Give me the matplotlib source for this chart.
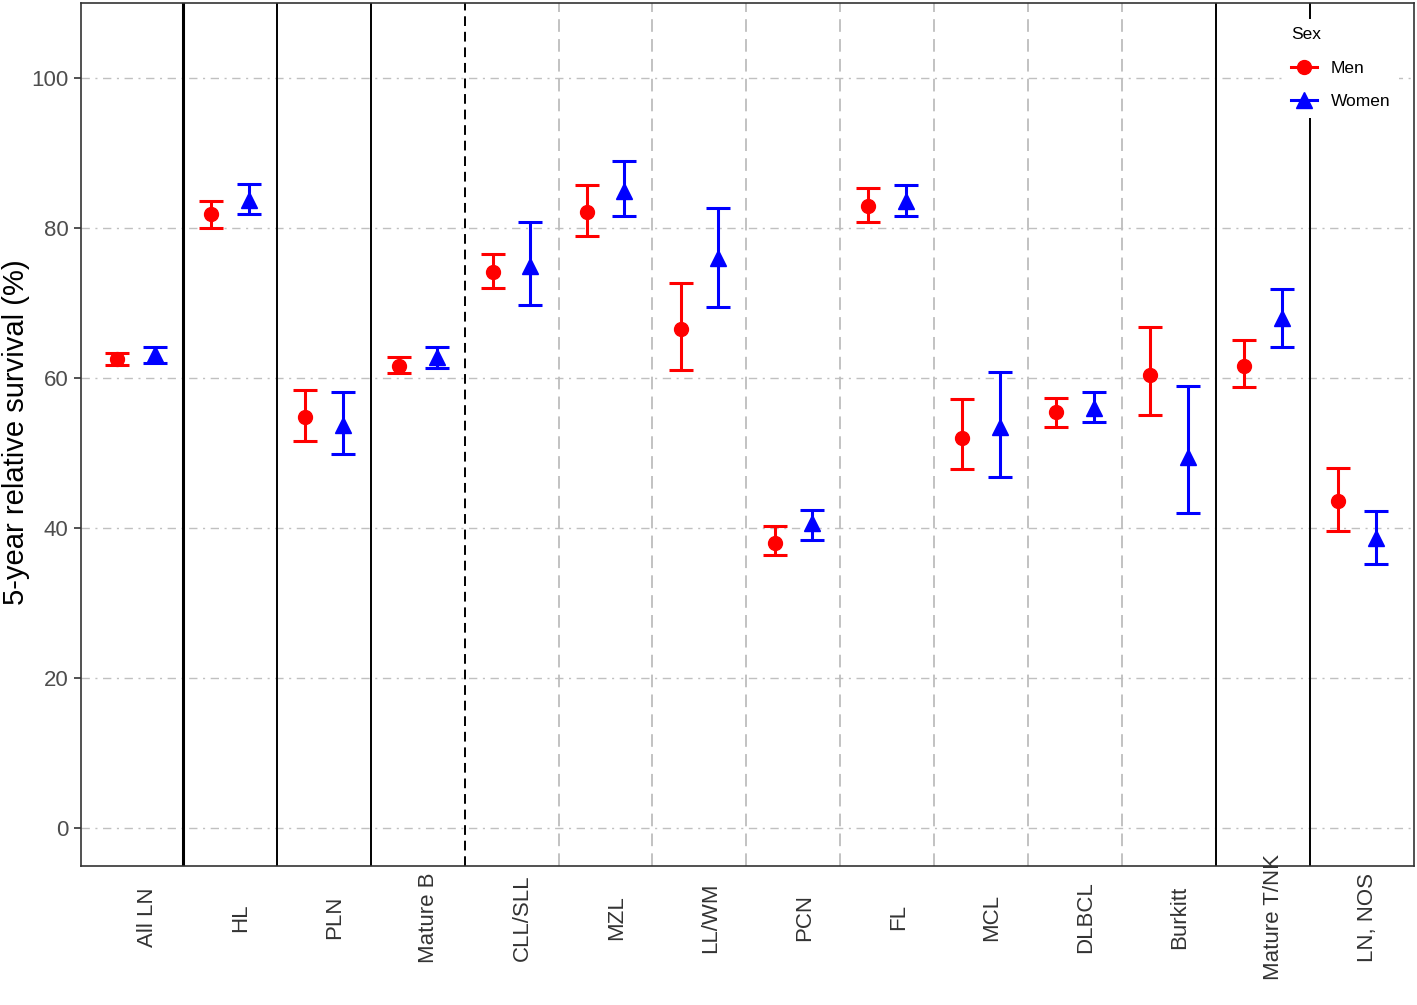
import matplotlib
matplotlib.use("Agg")
import matplotlib.pyplot as plt
from matplotlib.lines import Line2D
import matplotlib.transforms as mtransforms
import numpy as np

plt.rcParams['font.family'] = ['Liberation Sans', 'DejaVu Sans']

categories = ["All LN", "HL", "PLN", "Mature B", "CLL/SLL", "MZL", "LL/WM", "PCN",
              "FL", "MCL", "DLBCL", "Burkitt", "Mature T/NK", "LN, NOS"]

men_est = [62.5, 81.9, 54.8, 61.6, 74.1, 82.1, 66.5, 38.1, 82.9, 52.1, 55.5, 60.4, 61.6, 43.6]
men_lo  = [61.8, 80.0, 51.6, 60.7, 72.0, 78.9, 61.1, 36.4, 80.8, 47.9, 53.5, 55.1, 58.8, 39.7]
men_hi  = [63.3, 83.6, 58.4, 62.8, 76.5, 85.7, 72.7, 40.3, 85.3, 57.2, 57.3, 66.8, 65.1, 48.0]

women_est = [63.2, 83.7, 53.7, 62.8, 75.0, 85.0, 76.0, 40.7, 83.6, 53.5, 56.0, 49.5, 68.0, 38.7]
women_lo  = [62.0, 81.9, 49.9, 61.3, 69.7, 81.6, 69.5, 38.5, 81.6, 46.8, 54.1, 42.0, 64.1, 35.2]
women_hi  = [64.2, 85.9, 58.1, 64.1, 80.8, 88.9, 82.7, 42.5, 85.7, 60.8, 58.1, 58.9, 71.9, 42.3]

y_ticks = [0, 20, 40, 60, 80, 100]

fig = plt.figure(figsize=(14.17, 10.05), dpi=100)
ax = fig.add_axes([81/1417, 1 - 866/1005, (1414 - 81)/1417, (866 - 3)/1005])

x = np.arange(1, len(categories) + 1)
dodge = 0.2

# horizontal gridlines (dash-dot)
for yv in y_ticks:
    ax.axhline(yv, color='#C0C0C0', lw=1.0, ls=(0, (6, 4, 1.5, 4)), zorder=0)

# vertical separators between categories
n = len(categories)
for i in range(1, n):
    pos = i + 0.5
    if i == 1:
        ax.axvline(pos, color='black', lw=2.2, zorder=1)
    elif i in (2, 3, n - 2, n - 1):
        ax.axvline(pos, color='black', lw=1.4, zorder=1)
    elif i == 4:
        ax.axvline(pos, color='black', lw=1.4, ls=(0, (5, 3)), zorder=1)
    else:
        ax.axvline(pos, color='#BDBDBD', lw=1.3, ls=(0, (7, 4)), zorder=1)

men_est_a = np.array(men_est)
women_est_a = np.array(women_est)
men_err = [men_est_a - np.array(men_lo), np.array(men_hi) - men_est_a]
women_err = [women_est_a - np.array(women_lo), np.array(women_hi) - women_est_a]

ax.errorbar(x - dodge, men_est, yerr=men_err, fmt='o', color='#FF0000', ecolor='#FF0000',
            elinewidth=2.2, capsize=8.3, capthick=2.2, markersize=10, zorder=3)
ax.errorbar(x + dodge, women_est, yerr=women_err, fmt='^', color='#0000FF', ecolor='#0000FF',
            elinewidth=2.2, capsize=8.3, capthick=2.2, markersize=11, zorder=3)

ax.set_xlim(0.414, 14.61)
ax.set_ylim(-5, 110)
ax.set_yticks(y_ticks)
ax.set_yticklabels([str(v) for v in y_ticks], fontsize=16, color='#4D4D4D')
ax.set_xticks(x)
ax.set_xticklabels(categories, rotation=90, fontsize=16, color='#333333', va='center', ha='center')
ax.tick_params(axis='x', length=0, pad=37)
ax.tick_params(axis='y', length=5, width=1.2, color='#333333', pad=4)

offset = mtransforms.ScaledTranslation(11/100, 0, fig.dpi_scale_trans)
for lab in ax.get_xticklabels():
    lab.set_transform(lab.get_transform() + offset)

for sp in ax.spines.values():
    sp.set_color('#333333')
    sp.set_linewidth(1.2)
    sp.set_zorder(6)

fig.text(16/1417, 1 - 432/1005, "5-year relative survival (%)", fontsize=21, color='black',
         rotation=90, ha='center', va='center')

handles = [
    Line2D([], [], color='#FF0000', marker='o', lw=2.2, markersize=10),
    Line2D([], [], color='#0000FF', marker='^', lw=2.2, markersize=11),
]
leg = ax.legend(handles, ["Men", "Women"], title="Sex", loc='upper right',
                bbox_to_anchor=(1408/1417, 1 - 10/1005), bbox_transform=fig.transFigure,
                frameon=True, facecolor='white', edgecolor='none', framealpha=1,
                fontsize=12.5, title_fontsize=12.5, handlelength=1.5, handletextpad=0.8,
                labelspacing=1.05, borderpad=0.5, alignment='left')
leg.get_frame().set_boxstyle('square', pad=0)
leg.set_zorder(5)

fig.savefig("out.png", dpi=100)
